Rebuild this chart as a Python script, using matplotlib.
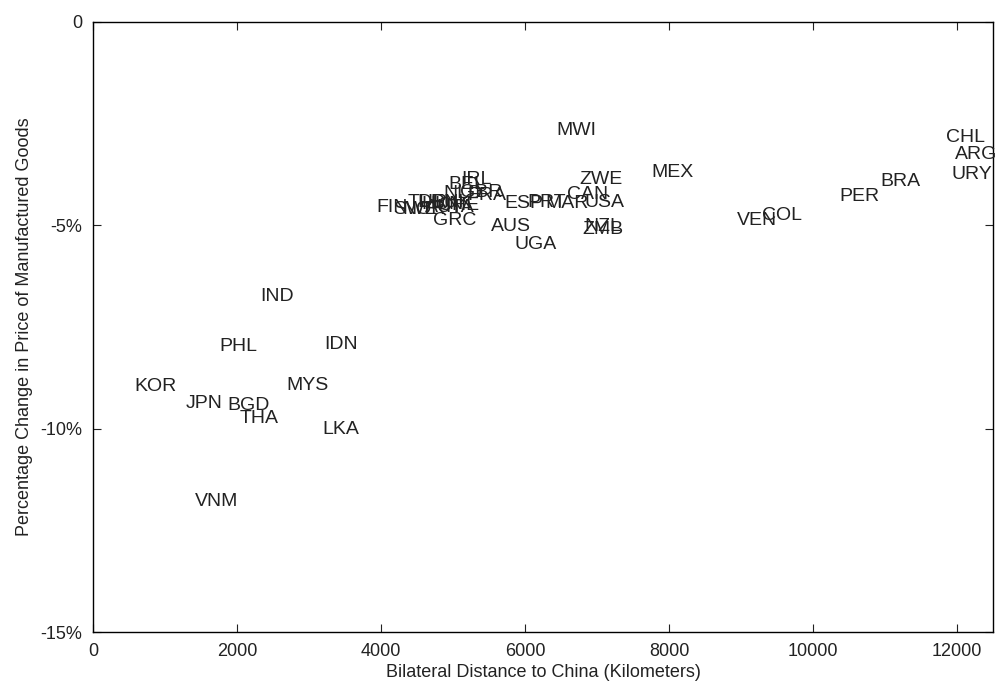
import matplotlib
matplotlib.use("Agg")
import matplotlib.pyplot as plt
import numpy as np

plt.rcParams['font.family'] = ['Liberation Sans', 'DejaVu Sans']

# country code, distance to China (km), % change in price of manufactured goods
countries = ['MWI', 'MEX', 'ZWE', 'CAN', 'USA', 'NZL', 'ZMB', 'ESP', 'PRT', 'MAR',
             'AUS', 'UGA', 'IRL', 'BEL', 'NLD', 'GBR', 'FRA', 'FIN', 'SWE', 'TUR',
             'DEU', 'AUT', 'DNK', 'CHE', 'ITA', 'NOR', 'HUN', 'GRC',
             'PER', 'BRA', 'CHL', 'ARG', 'URY', 'VEN', 'COL',
             'IND', 'PHL', 'IDN', 'KOR', 'MYS', 'JPN', 'BGD', 'THA', 'LKA', 'VNM']
distance = [6440, 7750, 6760, 6580, 6820, 6830, 6800, 5720, 6030, 6280,
            5530, 5860, 5120, 4930, 4860, 5100, 5200, 3930, 4170, 4370,
            4510, 4610, 4680, 4790, 4890, 4300, 4560, 4720,
            10360, 10930, 11850, 11970, 11920, 8940, 9290,
            2320, 1760, 3210, 580, 2690, 1290, 1860, 2040, 3190, 1420]
price_change = [-2.68, -3.71, -3.88, -4.25, -4.43, -5.02, -5.11, -4.47, -4.45, -4.47,
                -5.04, -5.46, -3.88, -4.00, -4.22, -4.20, -4.27, -4.55, -4.62, -4.43,
                -4.45, -4.55, -4.45, -4.52, -4.55, -4.62, -4.50, -4.87,
                -4.28, -3.93, -2.83, -3.27, -3.76, -4.89, -4.77,
                -6.74, -7.97, -7.92, -8.97, -8.93, -9.37, -9.44, -9.76, -10.01, -11.80]

fig = plt.figure(figsize=(9.98, 6.86), dpi=100)
ax = fig.add_axes([0.0932, 0.0787, 0.9018, 0.8893])

for name, x, y in zip(countries, distance, price_change):
    ax.text(x, y, name, ha='left', va='center', fontsize=14, color='#222222')

ax.set_xlim(0, 12500)
ax.set_ylim(-15, 0)
ax.set_xticks([0, 2000, 4000, 6000, 8000, 10000, 12000])
ax.set_yticks([-15, -10, -5, 0])
ax.set_yticklabels(['-15%', '-10%', '-5%', '0'])
ax.tick_params(direction='in', top=True, right=True, length=6, labelsize=13,
               colors='#222222', pad=8)
for s in ax.spines.values():
    s.set_linewidth(1.0)
ax.set_xlabel('Bilateral Distance to China (Kilometers)', fontsize=13,
              color='#222222', labelpad=3)
ax.set_ylabel('Percentage Change in Price of Manufactured Goods', fontsize=13,
              color='#222222', labelpad=5)

fig.savefig('out.png', dpi=100)
